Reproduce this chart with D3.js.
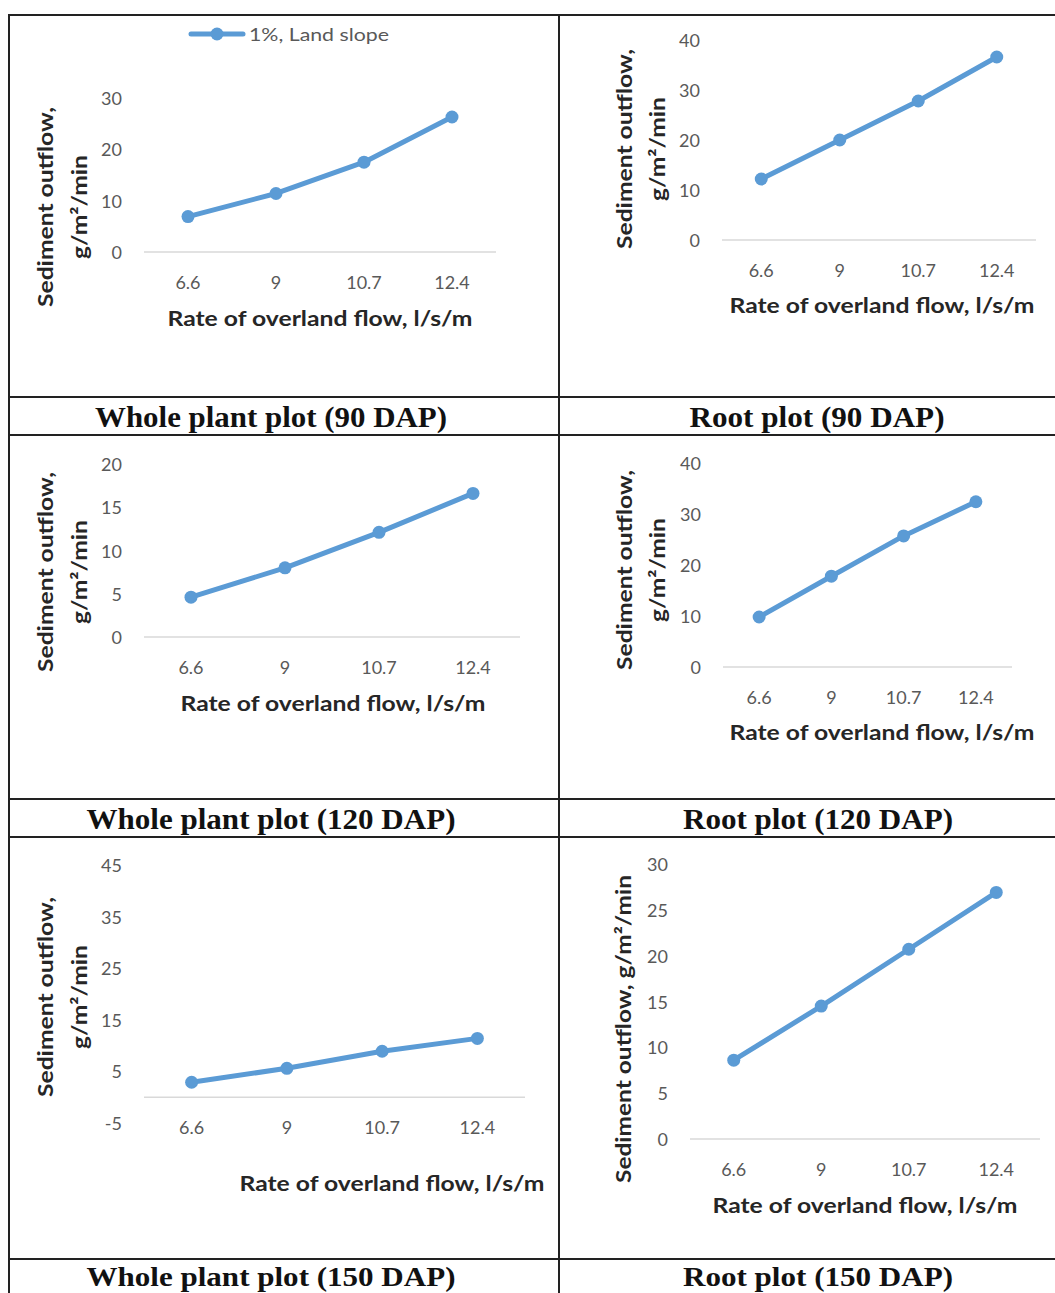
<!DOCTYPE html>
<html>
<head>
<meta charset="utf-8">
<script src="https://cdn.jsdelivr.net/npm/d3@7/dist/d3.min.js"></script>
<style>
  html, body { margin: 0; padding: 0; background: #fff; }
  svg { display: block; }
</style>
</head>
<body>
<svg id="chart" width="1055" height="1293"></svg>
<script>
// ---------------- DATA ----------------
const categories = ["6.6", "9", "10.7", "12.4"];
const seriesName = "1%, Land slope";

const wholePlant90  = [6.9, 11.4, 17.5, 26.3];
const root90        = [12.2, 20.0, 27.8, 36.6];
const wholePlant120 = [4.6, 8.0, 12.1, 16.6];
const root120       = [9.8, 17.8, 25.7, 32.4];
const wholePlant150 = [2.9, 5.6, 8.9, 11.4];
const root150       = [8.6, 14.5, 20.7, 26.9];

const ticksWP90  = [0, 10, 20, 30];
const ticksR90   = [0, 10, 20, 30, 40];
const ticksWP120 = [0, 5, 10, 15, 20];
const ticksR120  = [0, 10, 20, 30, 40];
const ticksWP150 = [-5, 5, 15, 25, 35, 45];
const ticksR150  = [0, 5, 10, 15, 20, 25, 30];

const captions = [
  "Whole plant plot (90 DAP)", "Root plot (90 DAP)",
  "Whole plant plot (120 DAP)", "Root plot (120 DAP)",
  "Whole plant plot (150 DAP)", "Root plot (150 DAP)"
];
const xTitle = "Rate of overland flow, l/s/m";
const yTitleLines = ["Sediment outflow,", "g/m\u00B2/min"];
const yTitleSingle = "Sediment outflow, g/m\u00B2/min";

// ---------------- LAYOUT ----------------
const svg = d3.select("#chart");
const BLUE = "#5B9BD5";
const TICK = "#595959";
const SANS = "Lato, 'Open Sans', sans-serif";
const SERIF = "'Liberation Serif', 'Times New Roman', serif";

const panels = [
  { values: wholePlant90,  ticks: ticksWP90,  x: [144, 496],  y: [252, 98],   yTitle: {xs: [44, 78], cy: 207}, xt: {cx: 320, by: 326} },
  { values: root90,        ticks: ticksR90,   x: [722, 1036], y: [240, 40],   yTitle: {xs: [623, 656], cy: 149}, xt: {cx: 882, by: 313} },
  { values: wholePlant120, ticks: ticksWP120, x: [144, 520],  y: [637, 464],  yTitle: {xs: [44, 78], cy: 572}, xt: {cx: 333, by: 711} },
  { values: root120,       ticks: ticksR120,  x: [723, 1012], y: [667, 463],  yTitle: {xs: [623, 656], cy: 570}, xt: {cx: 882, by: 740} },
  { values: wholePlant150, ticks: ticksWP150, x: [144, 525],  y: [1123, 865], yTitle: {xs: [44, 78], cy: 997}, xt: {cx: 392, by: 1191} },
  { values: root150,       ticks: ticksR150,  x: [690, 1040], y: [1139, 864], yTitle: {xs: [622], cy: 1029, single: true}, xt: {cx: 865, by: 1213} }
];

panels.forEach(p => {
  const g = svg.append("g");
  const x = d3.scalePoint().domain(categories).range(p.x).padding(0.5);
  const y = d3.scaleLinear().domain(d3.extent(p.ticks)).range(p.y);

  // zero baseline
  g.append("line")
    .attr("x1", p.x[0]).attr("x2", p.x[1])
    .attr("y1", y(0)).attr("y2", y(0))
    .attr("stroke", "#d9d9d9").attr("stroke-width", 1.5);

  // y tick labels
  g.selectAll("text.yt").data(p.ticks).join("text")
    .attr("class", "yt")
    .attr("x", p.x[0] - 22).attr("y", d => y(d))
    .attr("text-anchor", "end").attr("dominant-baseline", "central")
    .attr("font-family", SANS).attr("font-size", 18).attr("fill", TICK)
    .text(d => d);

  // x tick labels
  g.selectAll("text.xt").data(categories).join("text")
    .attr("class", "xt")
    .attr("x", d => x(d)).attr("y", y(0) + 30)
    .attr("text-anchor", "middle").attr("dominant-baseline", "central")
    .attr("font-family", SANS).attr("font-size", 18).attr("fill", TICK)
    .text(d => d);

  // line
  const pts = categories.map((c, i) => [x(c), y(p.values[i])]);
  g.append("path")
    .attr("d", d3.line()(pts))
    .attr("fill", "none").attr("stroke", BLUE)
    .attr("stroke-width", 5).attr("stroke-linejoin", "round").attr("stroke-linecap", "round");
  g.selectAll("circle").data(pts).join("circle")
    .attr("cx", d => d[0]).attr("cy", d => d[1]).attr("r", 6.5)
    .attr("fill", BLUE);

  // x title
  g.append("text")
    .attr("x", p.xt.cx).attr("y", p.xt.by)
    .attr("text-anchor", "middle")
    .attr("font-family", SANS).attr("font-size", 21).attr("font-weight", "bold")
    .attr("fill", "#262626")
    .attr("textLength", 305).attr("lengthAdjust", "spacingAndGlyphs")
    .text(xTitle);

  // y title
  if (p.yTitle.single) {
    g.append("text")
      .attr("transform", `translate(${p.yTitle.xs[0]},${p.yTitle.cy}) rotate(-90)`)
      .attr("text-anchor", "middle").attr("dominant-baseline", "central")
      .attr("font-family", SANS).attr("font-size", 21).attr("font-weight", "bold")
      .attr("fill", "#262626")
      .attr("textLength", 308).attr("lengthAdjust", "spacingAndGlyphs")
      .text(yTitleSingle);
  } else {
    const lens = [200, 104];
    yTitleLines.forEach((t, i) => {
      g.append("text")
        .attr("transform", `translate(${p.yTitle.xs[i]},${p.yTitle.cy}) rotate(-90)`)
        .attr("text-anchor", "middle").attr("dominant-baseline", "central")
        .attr("font-family", SANS).attr("font-size", 21).attr("font-weight", "bold")
        .attr("fill", "#262626")
        .attr("textLength", lens[i]).attr("lengthAdjust", "spacingAndGlyphs")
        .text(t);
    });
  }
});

// legend (first panel)
const lg = svg.append("g");
lg.append("line").attr("x1", 191).attr("x2", 243).attr("y1", 34).attr("y2", 34)
  .attr("stroke", BLUE).attr("stroke-width", 5).attr("stroke-linecap", "round");
lg.append("circle").attr("cx", 217).attr("cy", 34).attr("r", 6.5).attr("fill", BLUE);
lg.append("text").attr("x", 249).attr("y", 34)
  .attr("dominant-baseline", "central")
  .attr("font-family", SANS).attr("font-size", 18).attr("fill", TICK)
  .attr("textLength", 140).attr("lengthAdjust", "spacingAndGlyphs")
  .text(seriesName);

// table grid
const hLines = [15, 397, 435, 799, 837, 1259];
const vLines = [9, 559];
svg.selectAll("line.h").data(hLines).join("line").attr("class", "h")
  .attr("x1", 9).attr("x2", 1055).attr("y1", d => d).attr("y2", d => d)
  .attr("stroke", "#222").attr("stroke-width", 2);
svg.selectAll("line.v").data(vLines).join("line").attr("class", "v")
  .attr("x1", d => d).attr("x2", d => d).attr("y1", 14).attr("y2", 1293)
  .attr("stroke", "#222").attr("stroke-width", 2);

// captions
const capPos = [
  {cx: 271, by: 427, w: 352, fs: 29}, {cx: 817, by: 427, w: 255, fs: 29},
  {cx: 271, by: 829, w: 369, fs: 29}, {cx: 818, by: 829, w: 270, fs: 29},
  {cx: 271, by: 1286, w: 369, fs: 28}, {cx: 818, by: 1286, w: 270, fs: 28}
];
svg.selectAll("text.cap").data(captions).join("text").attr("class", "cap")
  .attr("x", (d, i) => capPos[i].cx).attr("y", (d, i) => capPos[i].by)
  .attr("text-anchor", "middle")
  .attr("font-family", SERIF).attr("font-weight", "bold").attr("font-size", (d, i) => capPos[i].fs)
  .attr("fill", "#111")
  .attr("textLength", (d, i) => capPos[i].w).attr("lengthAdjust", "spacingAndGlyphs")
  .text(d => d);
</script>
</body>
</html>
